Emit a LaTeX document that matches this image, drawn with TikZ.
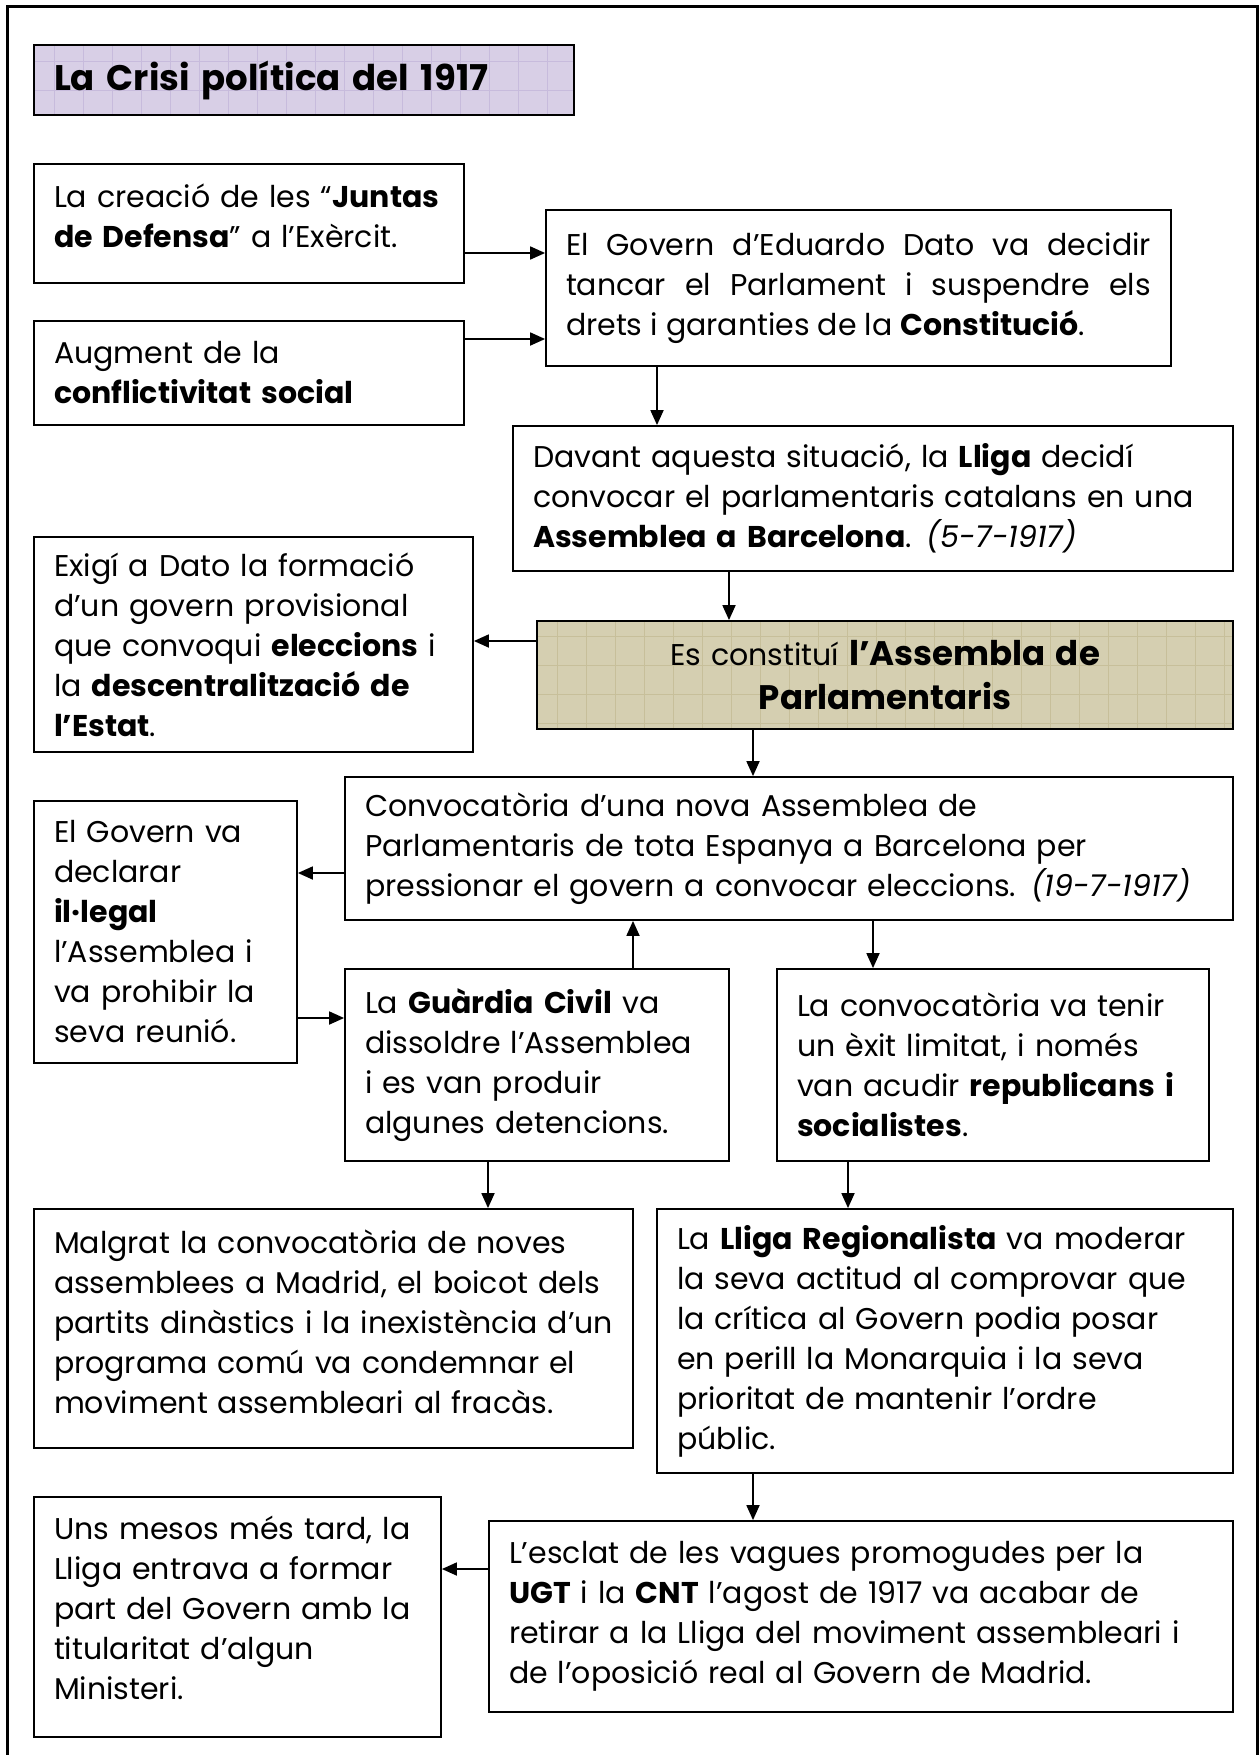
\documentclass[tikz,border=0pt]{standalone}
\usepackage{fontspec}
\setmainfont{Poppins}
\usetikzlibrary{arrows.meta}
\definecolor{lila}{RGB}{216,207,230}
\definecolor{lilafosc}{RGB}{199,187,220}
\definecolor{caqui}{RGB}{213,207,177}
\definecolor{caquifosc}{RGB}{199,191,154}
\begin{document}
\begin{tikzpicture}[x=1pt, y=-1pt, line width=1.8pt,
  flecha/.style={-{Triangle[length=15pt,width=13pt]}},
  caixa/.style={draw, rectangle, inner xsep=20pt, inner ysep=0pt, align=left, font=\fontsize{30}{40}\selectfont},
  trama/.style={path picture={\draw[#1, line width=0.8pt, step=29pt] (path picture bounding box.south west) grid (path picture bounding box.north east);}}]
\useasboundingbox (0,0) rectangle (1259,1755);
% Marc
\draw [line width=3pt] (7,7) rectangle (1257,1800);
% Caixes
\node [draw, fill=lila, trama=lilafosc, line width=2.2pt, inner xsep=20pt, inner ysep=0pt, text width=500pt, minimum height=70pt, align=left, font=\fontsize{35.5}{44}\selectfont\bfseries] (titol) at (304,80) {La Crisi política del 1917};

\node [caixa, text width=390pt, minimum height=119pt] (B1) at (249,223.5) {La creació de les “\textbf{Juntas}\\\textbf{de Defensa}” a l’Exèrcit.\\[-24pt]\mbox{}};
\node [caixa, text width=390pt, minimum height=104pt] (B2) at (249,373) {Augment de la\\\textbf{conflictivitat social}};
\node [caixa, align=justify, text width=585pt, minimum height=156pt] (B3) at (858.5,288) {\makebox[585pt][s]{El Govern d’Eduardo Dato va decidir}\\\makebox[585pt][s]{tancar el Parlament i suspendre els}\\drets i garanties de la \textbf{Constitució}.};
\node [caixa, text width=680pt, minimum height=145pt] (B4) at (873,498.5) {Davant aquesta situació, la \textbf{Lliga} decidí\\convocar el parlamentaris catalans en una\\\textbf{Assemblea a Barcelona}. \textit{(5-7-1917)}};
\node [caixa, text width=399pt, minimum height=215pt] (B5) at (253.5,644.5) {Exigí a Dato la formació\\d’un govern provisional\\que convoqui \textbf{eleccions} i\\la \textbf{descentralització de}\\\textbf{l’Estat}.};
\node [caixa, fill=caqui, trama=caquifosc, align=center, text width=656pt, minimum height=108pt, font=\fontsize{30}{44}\selectfont] (B6) at (885,675) {Es constituí {\fontsize{34}{44}\selectfont\textbf{l’Assembla de}}\\{\fontsize{34}{44}\selectfont\textbf{Parlamentaris}}};
\node [caixa, text width=848pt, minimum height=143pt] (B7) at (789,848.5) {Convocatòria d’una nova Assemblea de\\Parlamentaris de tota Espanya a Barcelona per\\pressionar el govern a convocar eleccions. \textit{(19-7-1917)}};
\node [caixa, text width=223pt, minimum height=262pt] (B8) at (165.5,932) {El Govern va\\declarar\\\textbf{il·legal}\\l’Assemblea i\\va prohibir la\\seva reunió.};
\node [caixa, text width=344pt, minimum height=192pt] (B9) at (537,1065) {La \textbf{Guàrdia Civil} va\\dissoldre l’Assemblea\\i es van produir\\algunes detencions.};
\node [caixa, text width=392pt, minimum height=192pt] (B10) at (993,1065) {La convocatòria va tenir\\un èxit limitat, i només\\van acudir \textbf{republicans i}\\\textbf{socialistes}.};
\node [caixa, text width=559pt, minimum height=239pt] (B11) at (333.5,1328.5) {Malgrat la convocatòria de noves\\assemblees a Madrid, el boicot dels\\\mbox{partits dinàstics i la inexistència d’un}\\programa comú va condemnar el\\moviment assembleari al fracàs.\\[-26pt]\mbox{}};
\node [caixa, text width=536pt, minimum height=264pt] (B12) at (945,1341) {La \textbf{Lliga Regionalista} va moderar\\la seva actitud al comprovar que\\la crítica al Govern podia posar\\en perill la Monarquia i la seva\\prioritat de mantenir l’ordre\\públic.};
\node [caixa, text width=367pt, minimum height=240pt] (B13) at (237.5,1617) {Uns mesos més tard, la\\Lliga entrava a formar\\part del Govern amb la\\titularitat d’algun\\Ministeri.\\[-22pt]\mbox{}};
\node [caixa, text width=704pt, minimum height=191pt] (B14) at (861,1616.5) {L’esclat de les vagues promogudes per la\\\textbf{UGT} i la \textbf{CNT} l’agost de 1917 va acabar de\\retirar a la Lliga del moviment assembleari i\\de l’oposició real al Govern de Madrid.};
% Fletxes
\draw [flecha] (B1.east |- 0,253) -- (B3.west |- 0,253);
\draw [flecha] (B2.east |- 0,339) -- (B3.west |- 0,339);
\draw [flecha] (B3.south -| 657,0) -- (B4.north -| 657,0);
\draw [flecha] (B4.south -| 729,0) -- (B6.north -| 729,0);
\draw [flecha] (B6.west |- 0,641) -- (B5.east |- 0,641);
\draw [flecha] (B6.south -| 753,0) -- (B7.north -| 753,0);
\draw [flecha] (B7.west |- 0,873) -- (B8.east |- 0,873);
\draw [flecha] (B8.east |- 0,1018) -- (B9.west |- 0,1018);
\draw [flecha] (B9.north -| 633,0) -- (B7.south -| 633,0);
\draw [flecha] (B7.south -| 873,0) -- (B10.north -| 873,0);
\draw [flecha] (B9.south -| 488,0) -- (B11.north -| 488,0);
\draw [flecha] (B10.south -| 848,0) -- (B12.north -| 848,0);
\draw [flecha] (B12.south -| 753,0) -- (B14.north -| 753,0);
\draw [flecha] (B14.west |- 0,1569) -- (B13.east |- 0,1569);
\end{tikzpicture}
\end{document}
